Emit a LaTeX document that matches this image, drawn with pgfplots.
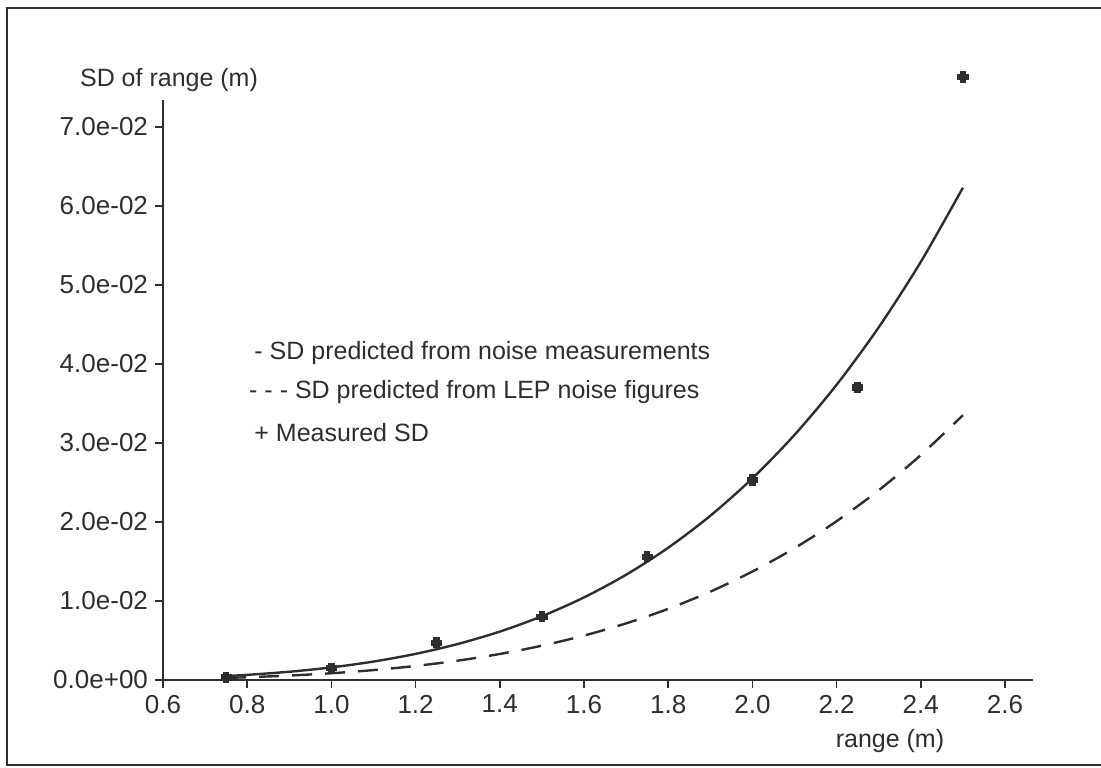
\documentclass[border=0pt]{standalone}
\usepackage{pgfplots}
\pgfplotsset{compat=1.18}
\usepackage{fontspec}
\setmainfont{Liberation Sans}
\definecolor{ink}{HTML}{2E2E2E}
\begin{document}
\begin{tikzpicture}
\useasboundingbox (-81.5pt,-43.5pt) rectangle (469pt,340pt);
\draw[ink, line width=1.3pt] (469pt,336pt) -- (-78pt,336pt) -- (-78pt,-42.5pt) -- (469pt,-42.5pt);
\begin{axis}[
  scale only axis,
  width=435pt, height=290pt,
  xmin=0.6, xmax=2.6665,
  ymin=0, ymax=0.0734,
  clip=false,
  axis x line=bottom, axis y line=left,
  axis line style={-, ink, line width=1pt},
  tick align=outside,
  major tick length=4pt,
  tick style={ink, line width=0.8pt},
  xtick={0.6,0.8,1.0,1.2,1.4,1.6,1.8,2.0,2.2,2.4,2.6},
  xticklabels={0.6,0.8,1.0,1.2,1.4,1.6,1.8,2.0,2.2,2.4,2.6},
  ytick={0,0.01,0.02,0.03,0.04,0.05,0.06,0.07},
  yticklabels={0.0e+00,1.0e-02,2.0e-02,3.0e-02,4.0e-02,5.0e-02,6.0e-02,7.0e-02},
  scaled y ticks=false,
  tick label style={font=\fontsize{13}{15}\selectfont, text=ink},
  xlabel={range (m)},
  ylabel={SD of range (m)},
  every axis x label/.style={at={(axis description cs:0.8356,-0.105)}, anchor=center, font=\fontsize{12.5}{15}\selectfont, text=ink},
  every axis y label/.style={at={(axis description cs:0.0069,1.0345)}, anchor=center, font=\fontsize{12.5}{15}\selectfont, text=ink},
]
% SD predicted from noise measurements
\addplot[ink, line width=1.2pt, smooth] coordinates {
(0.75,0.000505) (0.8,0.000653) (0.9,0.001046) (1.0,0.001595) (1.1,0.002335)
(1.2,0.003307) (1.3,0.004555) (1.4,0.006127) (1.5,0.008075) (1.6,0.010453)
(1.7,0.013322) (1.8,0.016744) (1.9,0.020786) (2.0,0.025520) (2.1,0.031020)
(2.2,0.037364) (2.3,0.044635) (2.4,0.052918) (2.5,0.062305)};
% SD predicted from LEP noise figures
\addplot[ink, line width=1.2pt, smooth, dash pattern=on 10pt off 6.5pt] coordinates {
(0.75,0.000271) (0.8,0.000351) (0.9,0.000563) (1.0,0.000858) (1.1,0.001256)
(1.2,0.001779) (1.3,0.002450) (1.4,0.003296) (1.5,0.004344) (1.6,0.005623)
(1.7,0.007166) (1.8,0.009007) (1.9,0.011182) (2.0,0.013728) (2.1,0.016686)
(2.2,0.020099) (2.3,0.024011) (2.4,0.028466) (2.5,0.033516)};
% Measured SD
\addplot[only marks, mark=+, mark size=2.8pt, ink, mark options={line width=3.2pt}] coordinates {
(0.75,0.0003) (1.0,0.0015) (1.25,0.0047) (1.5,0.0080) (1.75,0.0156) (2.0,0.0253) (2.25,0.0370) (2.5,0.0763)};
\node[anchor=west, text=ink, font=\fontsize{12.5}{15}\selectfont] at (axis description cs:0.097,0.564) {- SD predicted from noise measurements};
\node[anchor=west, text=ink, font=\fontsize{12.5}{15}\selectfont] at (axis description cs:0.091,0.497) {- - - SD predicted from LEP noise figures};
\node[anchor=west, text=ink, font=\fontsize{12.5}{15}\selectfont] at (axis description cs:0.097,0.426) {+ Measured SD};
\end{axis}
\end{tikzpicture}
\end{document}
